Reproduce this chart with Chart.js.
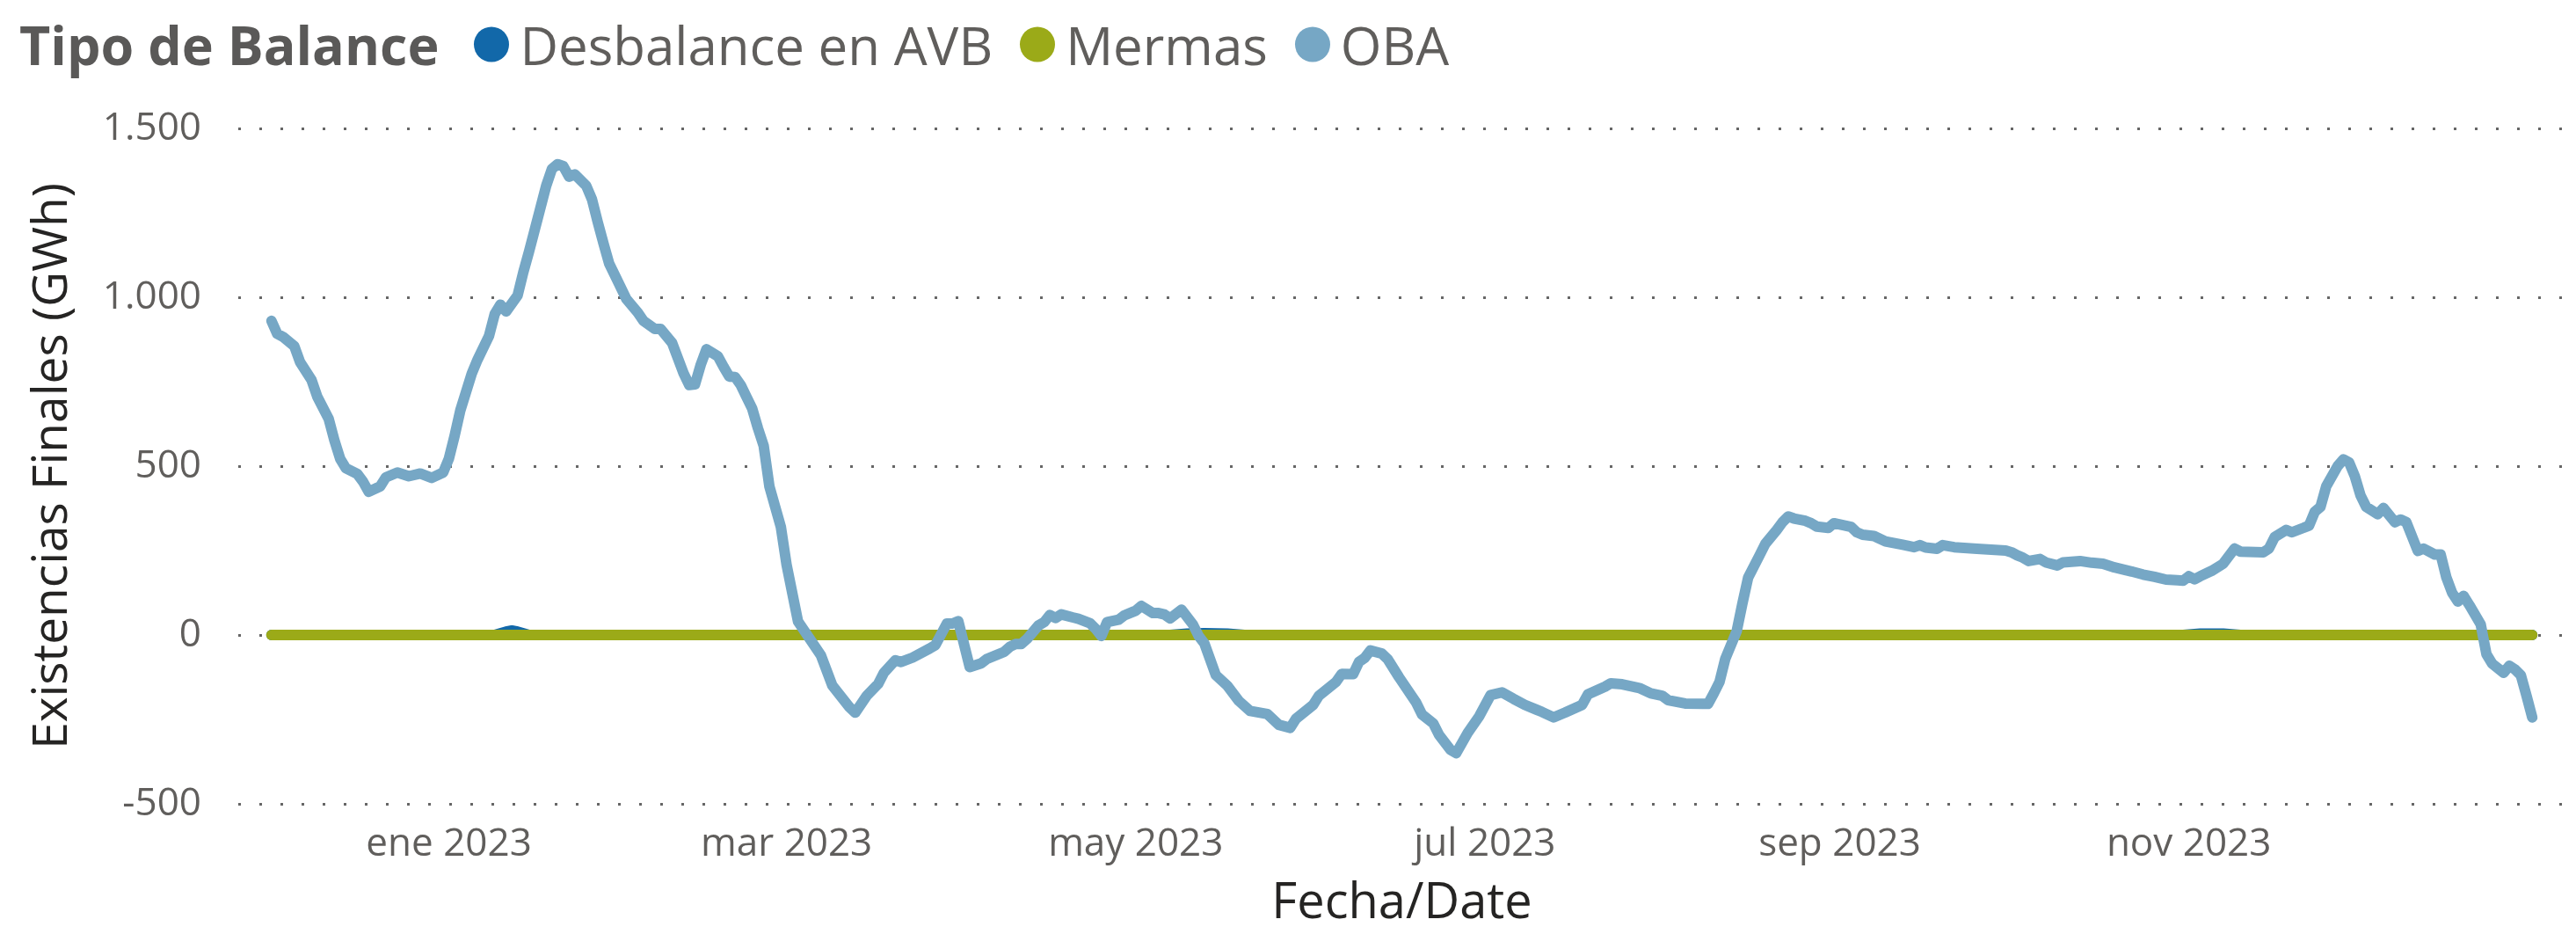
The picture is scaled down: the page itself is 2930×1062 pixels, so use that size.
<!DOCTYPE html>
<html><head><meta charset="utf-8">
<script src="https://cdn.jsdelivr.net/npm/chart.js@4.4.1/dist/chart.umd.min.js"></script>
<style>
html,body{margin:0;padding:0;background:#fff;}
#wrap{position:relative;width:2930px;height:1062px;overflow:hidden;}
#legend{position:absolute;left:22px;top:50px;transform:translateY(-50%);display:flex;align-items:center;font-family:'Open Sans',sans-serif;white-space:nowrap;line-height:1;}
.lt{font-weight:700;color:#5A5958;font-size:61px;margin-right:40px;}
.li{display:flex;align-items:center;margin-right:31px;color:#605E5C;font-size:60px;}
.dot{width:40px;height:40px;border-radius:50%;margin-right:12px;}
</style></head><body>
<div id="wrap"><canvas id="c" width="2930" height="1062"></canvas><div id="legend"></div></div>
<script>
// x values are day offsets from 1 Jan 2023 (-31 = 1 Dec 2022)
const obaDays = [-31,-30,-29,-27,-26,-24,-23,-21,-20,-19,-18,-16,-15,-14,-12,-11,-9,-7,-5,-3,-1,0,1,2,4,5,7,8,9,10,12,13,14,15,16,17,18,19,20,21,22,24,25,26,27,28,30,31,33,34,36,37,39,40,41,42,43,44,45,47,48,49,50,51,52,53,54,55,56,57,58,59,61,63,65,67,70,71,73,75,76,78,79,81,84,85,87,88,89,91,93,94,97,98,99,100,101,103,104,105,106,107,109,110,112,113,114,115,117,118,120,121,123,124,125,126,128,130,131,132,134,136,138,140,143,145,147,148,151,152,155,156,158,159,160,161,163,164,166,169,170,172,173,175,176,177,178,180,182,184,186,188,190,191,193,195,198,199,202,203,205,208,210,212,213,216,219,220,221,222,223,225,226,227,229,230,232,233,234,235,237,238,239,241,242,245,246,247,249,251,254,256,257,258,260,261,263,267,272,273,274,275,276,278,279,281,282,285,287,289,291,294,296,298,300,302,303,304,305,306,308,310,312,313,317,318,319,321,322,324,325,326,327,328,329,330,331,332,333,334,335,337,338,340,341,342,344,345,347,348,349,350,351,352,353,355,356,357,359,360,361,362,363,364];
const obaValues = [930,892,883,855,808,755,706,640,576,522,494,477,454,424,440,467,481,470,478,465,481,522,590,665,774,815,885,950,978,958,1005,1074,1135,1200,1265,1330,1380,1394,1388,1357,1364,1330,1290,1223,1160,1100,1030,995,955,930,906,906,865,820,775,740,742,800,846,825,794,765,764,740,705,670,612,560,440,380,320,208,40,-10,-60,-150,-214,-230,-180,-145,-112,-75,-80,-67,-40,-30,34,34,41,-95,-84,-71,-50,-35,-27,-27,-12,28,38,59,50,61,52,48,35,18,-3,38,45,58,72,86,65,65,61,49,75,31,-3,-25,-119,-150,-195,-225,-234,-266,-275,-248,-207,-180,-139,-115,-116,-80,-68,-46,-55,-71,-125,-200,-235,-262,-296,-340,-350,-320,-290,-241,-178,-170,-189,-207,-221,-228,-244,-230,-207,-176,-153,-143,-146,-157,-173,-180,-193,-203,-204,-204,-173,-139,-71,11,93,170,236,270,311,334,351,345,338,331,321,317,331,320,304,297,293,277,267,260,266,259,255,266,260,255,250,245,236,229,219,225,215,206,215,219,214,211,200,188,179,172,164,162,161,174,165,174,190,211,256,247,245,256,290,311,304,317,324,365,379,440,470,500,520,511,470,413,379,358,376,334,342,334,249,256,238,238,170,125,99,116,89,31,-57,-85,-112,-91,-102,-119,-180,-244];
const mermasDays = [-31, 364];
const mermasValues = [0, 0];
const desbDays = [-31, 8, 10, 11, 12, 14, 126, 129, 132, 136, 139, 303, 306, 310, 313, 364];
const desbValues = [0, 0, 10, 13, 10, 0, 0, 4, 5, 4, 0, 0, 4, 4, 0, 0];
const seriesNames = ['Desbalance en AVB', 'Mermas', 'OBA'];
const seriesColors = ['#1268A9', '#9BAA18', '#76A7C5'];
const xTickDays = [0, 59, 120, 181, 243, 304];
const xTickLabels = ['ene 2023', 'mar 2023', 'may 2023', 'jul 2023', 'sep 2023', 'nov 2023'];
const yTicks = [-500, 0, 500, 1000, 1500];
const legendTitle = 'Tipo de Balance';
const xTitle = 'Fecha/Date';
const yTitle = 'Existencias Finales (GWh)';

function pts(d, v){ return d.map((x,i)=>({x:x, y:v[i]})); }
function fmt(v){ const s = String(Math.abs(v)).replace(/\B(?=(\d{3})+(?!\d))/g,'.'); return (v<0?'-':'')+s; }

const FONT = "'Open Sans', sans-serif";
const chart = new Chart(document.getElementById('c'), {
  type: 'line',
  data: { datasets: [
    { label: seriesNames[0], data: pts(desbDays, desbValues), borderColor: seriesColors[0], backgroundColor: seriesColors[0], borderWidth: 12, order: 2 },
    { label: seriesNames[1], data: pts(mermasDays, mermasValues), borderColor: seriesColors[1], backgroundColor: seriesColors[1], borderWidth: 12, order: 1 },
    { label: seriesNames[2], data: pts(obaDays, obaValues), borderColor: seriesColors[2], backgroundColor: seriesColors[2], borderWidth: 12, order: 0 }
  ]},
  options: {
    responsive: false, animation: false, devicePixelRatio: 1,
    layout: { padding: { top: 146, right: 12, bottom: 0, left: 0 } },
    plugins: { legend: { display: false }, tooltip: { enabled: false } },
    elements: { point: { radius: 0 }, line: { tension: 0, borderCapStyle: 'round', borderJoinStyle: 'round' } },
    scales: {
      x: {
        type: 'linear', min: -36.8, max: 369.8,
        afterBuildTicks: s => { s.ticks = xTickDays.map(v => ({ value: v })); },
        afterFit: s => { s.height = 148; },
        grid: { display: false, drawTicks: false }, border: { display: false },
        ticks: { autoSkip: false, maxRotation: 0, padding: 20, color: '#605E5C', font: { family: FONT, size: 44 },
          callback: v => { const i = xTickDays.indexOf(v); return i >= 0 ? xTickLabels[i] : ''; } },
        title: { display: true, text: xTitle, color: '#252423', font: { family: FONT, size: 56 }, padding: { top: 0, bottom: 0 } }
      },
      y: {
        min: -500, max: 1500,
        afterBuildTicks: s => { s.ticks = yTicks.map(v => ({ value: v })); },
        afterFit: s => { s.width = 271; },
        grid: { color: '#666666', lineWidth: 3, drawTicks: false },
        border: { display: false, dash: [3, 21] },
        ticks: { padding: 42, color: '#605E5C', font: { family: FONT, size: 44 }, callback: v => fmt(v) },
        title: { display: true, text: yTitle, color: '#252423', font: { family: FONT, size: 55 }, padding: { top: 27, bottom: 0 } }
      }
    }
  }
});

const lg = document.getElementById('legend');
const t = document.createElement('span'); t.className = 'lt'; t.textContent = legendTitle; lg.appendChild(t);
chart.data.datasets.forEach(ds => {
  const it = document.createElement('span'); it.className = 'li';
  const d = document.createElement('span'); d.className = 'dot'; d.style.background = ds.borderColor;
  const tx = document.createElement('span'); tx.textContent = ds.label;
  it.appendChild(d); it.appendChild(tx); lg.appendChild(it);
});
</script>
</body></html>
